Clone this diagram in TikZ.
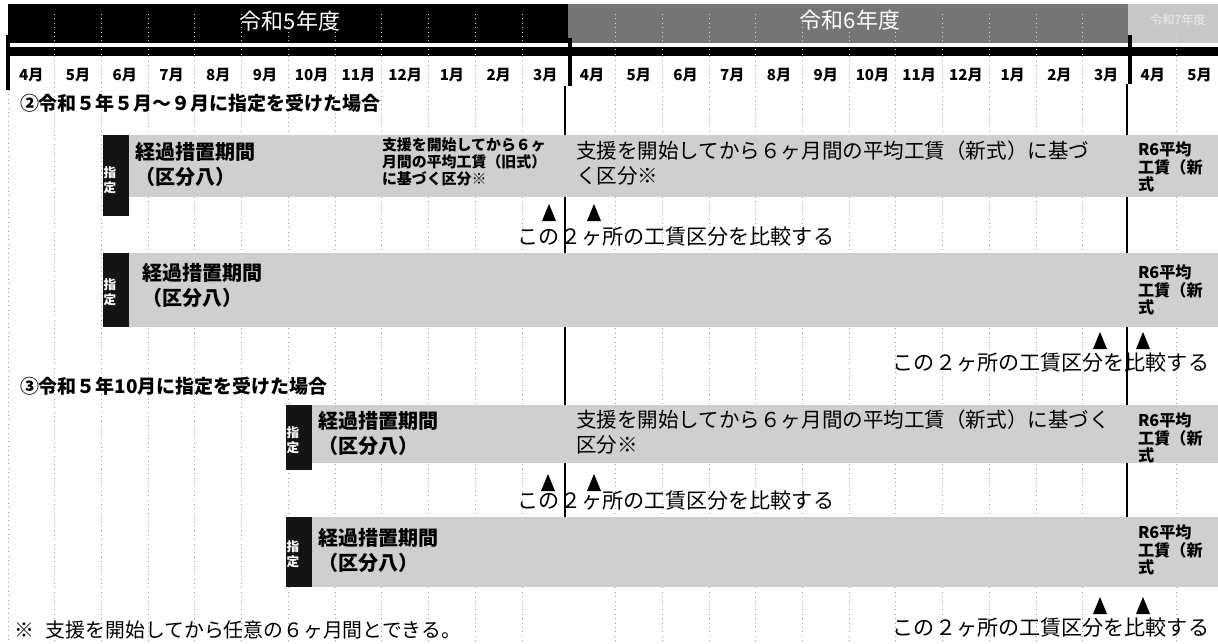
\documentclass[tikz,border=0pt]{standalone}
\usepackage{fontspec}
\setmainfont{Noto Sans CJK JP}
\usetikzlibrary{shapes.geometric}
\definecolor{barg}{gray}{0.81}
\definecolor{hdrg}{gray}{0.46}
\definecolor{hdrl}{gray}{0.78}
\begin{document}
\begin{tikzpicture}[x=0.02cm,y=-0.02cm,
  every node/.style={inner sep=0pt,outer sep=0pt},
  grid/.style={gray!75,dotted,line width=0.5pt},
  hgrid/.style={white!85!black,dotted,line width=0.5pt},
  thick line/.style={line width=2.2pt},
  solid line/.style={line width=0.8pt},
  kfill/.style={fill=black!92},
  hdr/.style={text=white,font=\fontsize{12.5}{14}\selectfont},
  hdrs/.style={text=white!92!black,font=\fontsize{7}{8}\selectfont},
  mon/.style={font=\fontsize{8.6}{10}\selectfont\bfseries},
  ttl/.style={anchor=west,font=\fontsize{10.8}{12}\selectfont\bfseries},
  ktxt/.style={text=white,align=center,font=\fontsize{7.2}{8.6}\selectfont\bfseries},
  lbl/.style={anchor=west,align=left,font=\fontsize{11.4}{14.2}\selectfont\bfseries},
  oldtxt/.style={anchor=west,align=left,font=\fontsize{8.5}{9.7}\selectfont\bfseries},
  newtxt/.style={anchor=west,align=left,font=\fontsize{11.7}{14}\selectfont},
  r6/.style={anchor=west,align=left,font=\fontsize{9.2}{9.8}\selectfont\bfseries},
  cmp/.style={font=\fontsize{12}{13}\selectfont},
  foot/.style={anchor=west,font=\fontsize{11.3}{12}\selectfont},
  tri/.pic={\fill[black] (-7,8) -- (0,-9) -- (7,8) -- cycle;}
]
\useasboundingbox (0,0) rectangle (1218,643);
\fill[white] (0,0) rectangle (1218,643);

% dotted month grid
\foreach \k in {1,...,11,13,14,...,23,25}
  \draw[grid] ({8+46.73*\k},56) -- ({8+46.73*\k},643);
\draw[grid] (8,90) -- (8,643);

% header bands
\fill[black] (8,4) rectangle (568,56);
\fill[hdrg] (568,4) rectangle (1128,43);
\fill[hdrl] (1128,4) rectangle (1218,43);
\fill[black] (568,47) rectangle (1218,56);
\fill[white] (10,43) rectangle (1218,47);
\foreach \k in {1,...,11,13,14,...,23,25}
  \draw[hgrid] ({8+46.73*\k},14) -- ({8+46.73*\k},56);

\node[hdr] (y5) at (290,21) {令和5年度};
\node[hdr] (y6) at (850,20) {令和6年度};
\node[hdrs] (y7) at (1178,20) {令和7年度};

% long solid lines at year boundaries
\draw[solid line] (565,86) -- (565,586);
\draw[solid line] (1127,84) -- (1127,586);

% thick separators
\draw[thick line] (8,35) -- (8,90);
\draw[thick line] (570,38) -- (570,86);
\draw[thick line] (1130,35) -- (1130,84);

% month labels
\foreach \m [count=\i from 0] in {4,5,6,7,8,9,10,11,12,1,2,3,4,5,6,7,8,9,10,11,12,1,2,3,4,5}
  \node[mon] (m\i) at ({8+46.73*(\i+0.5)},75) {{\m}月};

% scenario 2
\node[ttl] (t2) at (20,103) {②令和５年５月～９月に指定を受けた場合};

% row A
\fill[barg] (129,135) rectangle (1218,197);
\fill[kfill] (103,135) rectangle (129,216);
\node[ktxt] (kA) at (110,180) {指\\定};
\node[lbl] (aA) at (135,164) {経過措置期間\\（区分八）};
\node[oldtxt] (oA) at (382,162) {支援を開始してから６ヶ\\月間の平均工賃（旧式）\\に基づく区分※};
\node[newtxt] (nA) at (576,163) {支援を開始してから６ヶ月間の平均工賃（新式）に基づ\\く区分※};
\node[r6] (rA) at (1138,167) {R6平均\\工賃（新\\式};
\coordinate (pA1) at (549,213);
\coordinate (pA2) at (594,213);
\pic at (pA1) {tri};
\pic at (pA2) {tri};
\node[cmp] (cA) at (676,237) {この２ヶ所の工賃区分を比較する};

% row B
\fill[barg] (129,253) rectangle (1218,327);
\fill[kfill] (103,253) rectangle (129,327);
\node[ktxt] (kB) at (110,292) {指\\定};
\node[lbl] (aB) at (142,285) {経過措置期間\\（区分八）};
\node[r6] (rB) at (1138,290) {R6平均\\工賃（新\\式};
\coordinate (pB1) at (1100,341);
\coordinate (pB2) at (1143,341);
\pic at (pB1) {tri};
\pic at (pB2) {tri};
\node[cmp] (cB) at (1051,363) {この２ヶ所の工賃区分を比較する};

% scenario 3
\node[ttl] (t3) at (20,386) {③令和５年10月に指定を受けた場合};

% row C
\fill[barg] (312,405) rectangle (1218,463);
\fill[kfill] (286,405) rectangle (312,470);
\node[ktxt] (kC) at (293,440) {指\\定};
\node[lbl] (aC) at (318,433) {経過措置期間\\（区分八）};
\node[newtxt] (nC) at (576,432) {支援を開始してから６ヶ月間の平均工賃（新式）に基づく\\区分※};
\node[r6] (rC) at (1138,438) {R6平均\\工賃（新\\式};
\coordinate (pC1) at (548,483);
\coordinate (pC2) at (594,483);
\pic at (pC1) {tri};
\pic at (pC2) {tri};
\node[cmp] (cC) at (676,501) {この２ヶ所の工賃区分を比較する};

% row D
\fill[barg] (312,517) rectangle (1218,587);
\fill[kfill] (286,517) rectangle (312,587);
\node[ktxt] (kD) at (293,554) {指\\定};
\node[lbl] (aD) at (318,550) {経過措置期間\\（区分八）};
\node[r6] (rD) at (1138,550) {R6平均\\工賃（新\\式};
\coordinate (pD1) at (1100,606);
\coordinate (pD2) at (1143,606);
\pic at (pD1) {tri};
\pic at (pD2) {tri};
\node[cmp] (cD) at (1051,628) {この２ヶ所の工賃区分を比較する};

% footnote
\node[foot] (fn) at (14,630) {※\hspace{0.6em}支援を開始してから任意の６ヶ月間とできる。};
\end{tikzpicture}
\end{document}
